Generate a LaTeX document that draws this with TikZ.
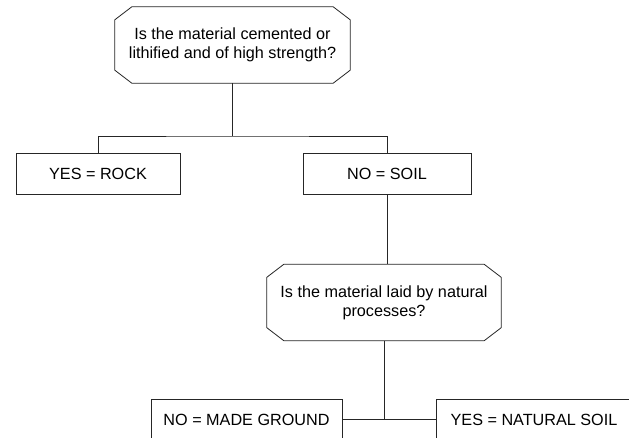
\documentclass[tikz,border=0pt]{standalone}
\usepackage{fontspec}
\setmainfont{Liberation Sans}
\begin{document}
\begin{tikzpicture}[x=1pt,y=-1pt,
  every node/.style={font=\fontsize{16.2}{19}\selectfont, align=center, inner sep=0pt},
  qbox/.style={draw=none, minimum width=#1, minimum height=76pt},
  abox/.style={draw=black!85, line width=0.8pt, minimum height=41pt, minimum width=#1},
  link/.style={draw=black!85, line width=0.8pt}]
\useasboundingbox (0,0) rectangle (629,438);
\clip (0,0) rectangle (629,438);
\fill[white] (0,0) rectangle (629,438);

% question nodes (octagon outline drawn from anchors)
\node[qbox=235pt] (q1) at (232.5,45) {Is the material cemented or\\lithified and of high strength?};
\node[qbox=234pt] (q2) at (384,302.5) {Is the material laid by natural\\processes?};
\foreach \n in {q1,q2}{
  \draw[link] ([xshift=17pt]\n.north west) -- ([xshift=-17pt]\n.north east)
    -- ([yshift=-13pt]\n.north east) -- ([yshift=13pt]\n.south east)
    -- ([xshift=-17pt]\n.south east) -- ([xshift=17pt]\n.south west)
    -- ([yshift=13pt]\n.south west) -- ([yshift=-13pt]\n.north west) -- cycle;
}

% answer boxes
\node[abox=164pt] (rock) at (98,173.5) {YES = ROCK};
\node[abox=168pt] (soil) at (387,173.5) {NO = SOIL};
\node[abox=191pt] (made) at (246.5,419.5) {NO = MADE GROUND};
\node[abox=196pt] (natural) at (534,419.5) {YES = NATURAL SOIL};

% connectors
\coordinate (j1) at (232.5,136);
\draw[link] (q1.south) -- (j1);
\draw[link] (rock.north) |- (j1) -| (soil.north);
\draw[link] (soil.south) -- (soil.south |- q2.north);
\draw[link] (q2.south) -- (q2.south |- made.east);
\draw[link] (made.east) -- (natural.west);
\end{tikzpicture}
\end{document}
